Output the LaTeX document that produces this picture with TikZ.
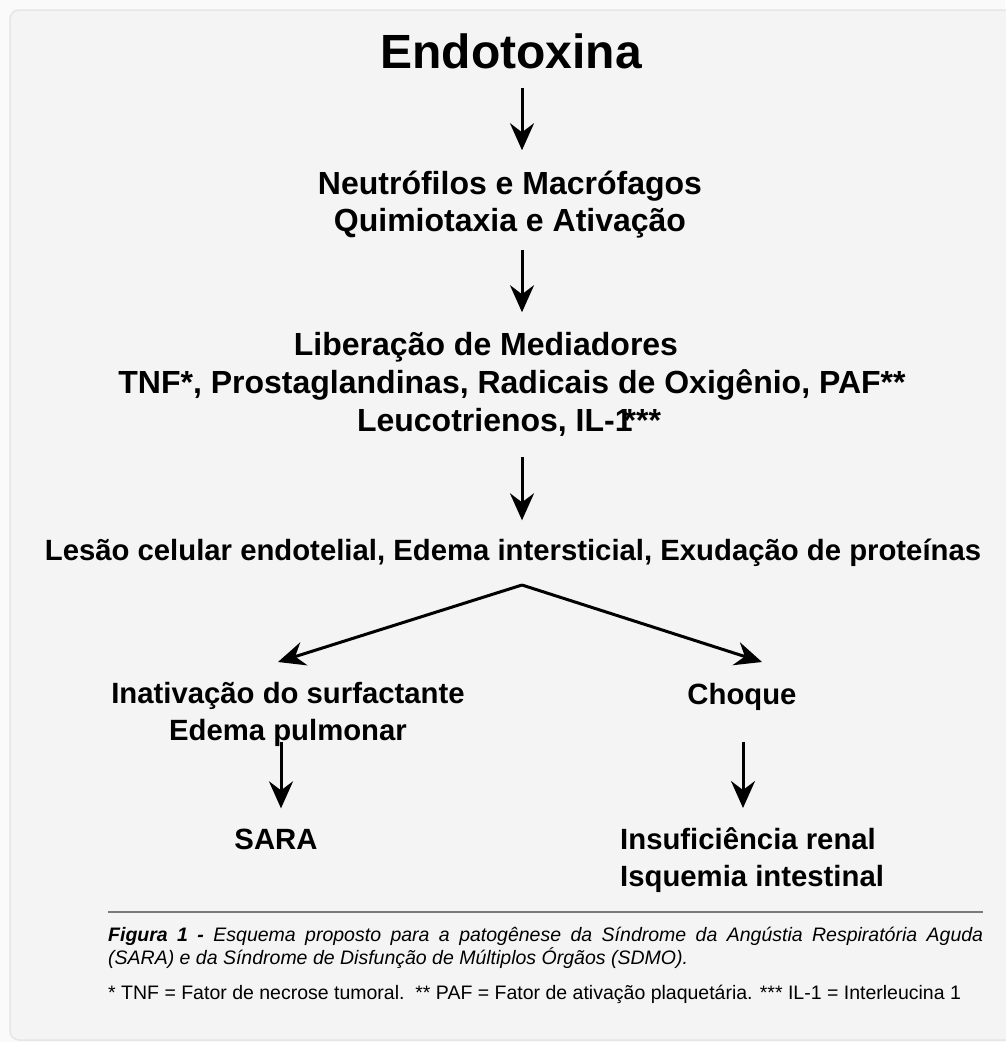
\documentclass[tikz,border=0pt]{standalone}
\usepackage{fontspec}
\setmainfont{Liberation Sans}
\usetikzlibrary{arrows.meta}
\definecolor{panel}{HTML}{F4F4F4}
\definecolor{outside}{HTML}{FAFAFA}
\definecolor{rim}{HTML}{E6E6E6}
\definecolor{rulegray}{HTML}{7A7A7A}

\begin{document}
\begin{tikzpicture}[x=1pt,y=-1pt]
  \tikzstyle{flow} = [line width=3pt, -{Stealth[length=27pt,width=24pt,inset=9pt]}]
  \tikzstyle{big} = [font=\fontsize{48}{58}\selectfont\bfseries, inner sep=0pt]
  \tikzstyle{stage} = [font=\fontsize{32}{37}\selectfont\bfseries, align=center, inner sep=0pt]
  \tikzstyle{effect} = [font=\fontsize{29.3}{37}\selectfont\bfseries, inner sep=0pt]
  \useasboundingbox (0,0) rectangle (1005,1042);
  \fill[outside] (0,0) rectangle (1005,1042);
  \draw[rim, line width=1.5pt, fill=panel, rounded corners=9pt] (10,10) rectangle (1030,1040);
  % axes of the arrows
  \coordinate (spine) at (522,0);
  \coordinate (lspine) at (281,0);
  \coordinate (rspine) at (743,0);
  % main column
  \node[big, anchor=base] (endo) at (511,68) {Endotoxina};
  \node[stage] (neutro) at (510,205) {Neutrófilos e Macrófagos\\Quimiotaxia e Ativação};
  \node[stage, font=\fontsize{32}{38}\selectfont\bfseries] (liber) at (512,384.5)
    {Liberação de Mediadores\hspace*{52pt}\\TNF*, Prostaglandinas, Radicais de Oxigênio, PAF**\\\hspace*{-6pt}Leucotrienos, IL-1\kern-9pt***};
  \node[effect, anchor=base] (lesao) at (513,560)
    {Lesão celular endotelial, Edema intersticial, Exudação de proteínas};
  \coordinate (fork) at (522,585);
  % branches
  \node[effect, align=center] (inat) at (288,714.5) {Inativação do surfactante\\Edema pulmonar};
  \node[effect, anchor=base] (choque) at (742,704) {Choque};
  \node[effect, anchor=base] (sara) at (276,849) {SARA};
  \node[effect, align=left, anchor=north west] (insuf) at (620,827) {Insuficiência renal\\Isquemia intestinal};
  \coordinate (tipL) at (278,662);
  \coordinate (tipR) at (762,662);
  \draw[flow, shorten <=19pt, shorten >=21pt] (endo.south -| spine) -- (neutro.north -| spine);
  \draw[flow, shorten <=11pt, shorten >=20pt] (neutro.south -| spine) -- (liber.north -| spine);
  \draw[flow, shorten <=20pt, shorten >=18pt] (liber.south -| spine) -- (lesao.north -| spine);
  \draw[flow] (fork) -- (tipL);
  \draw[flow] (fork) -- (tipR);
  \draw[flow, shorten <=-5pt, shorten >=20pt] (inat.south -| lspine) -- (sara.north -| lspine);
  \draw[flow, shorten <=32pt, shorten >=19pt] (choque.south -| rspine) -- (insuf.north -| rspine);
  % legend
  \draw[rulegray, line width=1.5pt] (108,912) -- (983,912);
  \node[anchor=north west, inner sep=0pt, text width=875pt, align=justify,
        font=\fontsize{19.5}{23}\selectfont\itshape] (legenda) at (108,927)
    {\textbf{Figura 1 -} Esquema proposto para a patogênese da Síndrome da Angústia Respiratória Aguda\linebreak
     (SARA) e da Síndrome de Disfunção de Múltiplos Órgãos (SDMO).};
  \node[anchor=base west, inner sep=0pt, font=\fontsize{19.5}{23}\selectfont] (notas) at (108,999)
    {* TNF = Fator de necrose tumoral.\ \ ** PAF = Fator de ativação plaquetária. *** IL-1 = Interleucina 1};
\end{tikzpicture}
\end{document}
